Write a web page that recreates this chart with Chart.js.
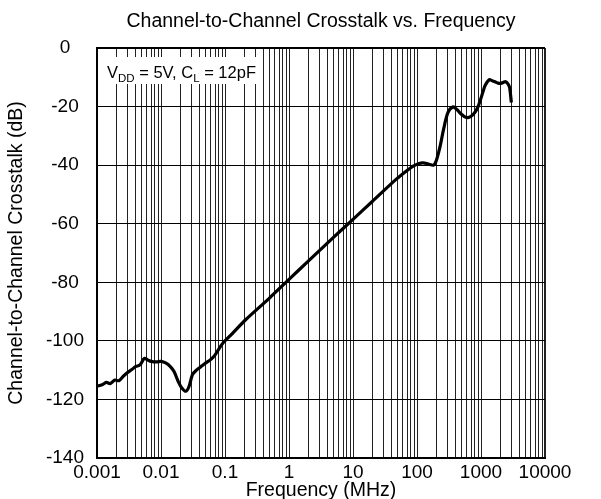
<!DOCTYPE html>
<html>
<head>
<meta charset="utf-8">
<script src="https://cdn.jsdelivr.net/npm/chart.js@4"></script>
<style>
  html, body { margin: 0; padding: 0; background: #fff; }
  #wrap { width: 601px; height: 499px; }
</style>
</head>
<body>
<div id="wrap"><canvas id="xtalkChart" width="601" height="499"></canvas></div>
<script>
// frequency in MHz, crosstalk in dB
const freqMHz = [0.001, 0.0012, 0.0014, 0.0016, 0.0019, 0.0022, 0.0026, 0.003, 0.0035, 0.004,
  0.0047, 0.0055, 0.0063, 0.007, 0.0085, 0.01, 0.012, 0.014, 0.016, 0.0185,
  0.021, 0.0245, 0.0275, 0.031, 0.035, 0.041, 0.048, 0.058, 0.068, 0.08,
  0.095, 0.13, 0.21, 0.5, 1, 2, 5, 10, 20, 48,
  70, 86, 105, 125, 150, 180, 200, 230, 260, 305,
  367, 420, 470, 550, 624, 700, 783, 880, 984, 1080,
  1165, 1350, 1500, 1650, 1850, 2050, 2250, 2430, 2650, 2800, 2980];
const crosstalkDb = [-115.5, -115, -114.2, -114.6, -113.4, -113.6, -112, -110.8, -109.8, -108.8,
  -108.2, -106, -106.6, -107, -107.2, -107, -107.6, -108.8, -110.5, -113.8,
  -116, -117.2, -115.5, -111.5, -110.2, -109, -107.8, -106.6, -105.2, -102.8,
  -100.5, -97.5, -92.8, -85.3, -79, -72.8, -64.6, -58.5, -52.4, -44.7,
  -41.8, -40.4, -39.5, -39.2, -39.6, -40.0, -38.5, -33.5, -27.8, -22,
  -20.1, -21, -22.2, -23.4, -23.8, -23.3, -22.3, -20.5, -17.6, -14.8,
  -12.7, -10.8, -11.2, -11.5, -12, -12.1, -11.7, -11.5, -12.3, -13.5, -18.6];

const xDecades = [0.001, 0.01, 0.1, 1, 10, 100, 1000, 10000];
const xTickLabels = ['0.001', '0.01', '0.1', '1', '10', '100', '1000', '10000'];
const yTicks = [-140, -120, -100, -80, -60, -40, -20, 0];

const FONT = 'Liberation Sans, Arial, sans-serif';

// every 1..9 x 10^n position for the log grid
function logGridValues() {
  const vals = [];
  for (let i = 0; i < xDecades.length; i++) {
    const d = xDecades[i];
    if (i === xDecades.length - 1) { vals.push(d); break; }
    for (let m = 1; m < 10; m++) vals.push(+(m * d).toPrecision(3));
  }
  return vals;
}

// white note box with V_DD / C_L subscripts
const noteBox = {
  id: 'noteBox',
  beforeDatasetsDraw(chart) {
    const c = chart.ctx;
    const a = chart.chartArea;
    c.save();
    c.fillStyle = '#fff';
    c.fillRect(a.left + 1, 57, 165, 27);
    c.fillStyle = '#000';
    c.textBaseline = 'alphabetic';
    let x = a.left + 10;
    const y = 78;
    const parts = [
      ['V', 16.5, 0], ['DD', 11.5, 4], [' = 5V, C', 16.5, 0], ['L', 11.5, 4], [' = 12pF', 16.5, 0]
    ];
    parts.forEach(p => {
      c.font = p[1] + 'px ' + FONT;
      c.fillText(p[0], x, y + p[2]);
      x += c.measureText(p[0]).width;
    });
    c.restore();
  }
};

const ctx = document.getElementById('xtalkChart').getContext('2d');
const xtalkChart = new Chart(ctx, {
  type: 'line',
  data: {
    datasets: [{
      data: freqMHz.map((f, i) => ({ x: f, y: crosstalkDb[i] })),
      borderColor: '#000',
      borderWidth: 3.2,
      pointRadius: 0,
      tension: 0.3,
      fill: false
    }]
  },
  options: {
    responsive: false,
    animation: false,
    layout: { padding: { left: 0, right: 56, top: 0, bottom: 0 } },
    plugins: {
      legend: { display: false },
      tooltip: { enabled: false },
      title: {
        display: true,
        fullSize: false,
        text: 'Channel-to-Channel Crosstalk vs. Frequency',
        color: '#000',
        font: { family: FONT, size: 19.5, weight: 'normal', lineHeight: 1.2 },
        padding: { top: 10, bottom: 14.6 }
      }
    },
    scales: {
      x: {
        type: 'logarithmic',
        min: 0.001,
        max: 10000,
        afterBuildTicks: s => { s.ticks = logGridValues().map(v => ({ value: v })); },
        afterFit: s => { s.height = 41; },
        border: { display: true, color: '#000', width: 2 },
        grid: {
          drawTicks: false,
          color: '#222',
          lineWidth: c => (c.tick && c.tick.value >= 10000 ? 2 : 1)
        },
        ticks: {
          autoSkip: false,
          maxRotation: 0,
          padding: 3,
          color: '#000',
          font: { family: FONT, size: 19 },
          callback: function (v) {
            const i = xDecades.findIndex(d => Math.abs(v - d) / d < 1e-6);
            return i >= 0 ? xTickLabels[i] : '';
          }
        },
        title: {
          display: true,
          text: 'Frequency (MHz)',
          color: '#000',
          font: { family: FONT, size: 19.5, lineHeight: 0.9 },
          padding: { top: 0, bottom: 0 }
        }
      },
      y: {
        min: -140,
        max: 0,
        afterBuildTicks: s => { s.ticks = yTicks.map(v => ({ value: v })); },
        afterFit: s => { s.width = 97; },
        border: { display: true, color: '#000', width: 2 },
        grid: {
          drawTicks: false,
          color: '#000',
          lineWidth: c => (c.tick && c.tick.value === 0 ? 2 : 1)
        },
        ticks: {
          crossAlign: 'center',
          padding: 13,
          color: '#000',
          font: { family: FONT, size: 19 }
        },
        title: {
          display: true,
          text: 'Channel-to-Channel Crosstalk (dB)',
          color: '#000',
          font: { family: FONT, size: 19.5 },
          padding: { top: 5, bottom: 0 }
        }
      }
    }
  },
  plugins: [noteBox]
});
</script>
</body>
</html>
